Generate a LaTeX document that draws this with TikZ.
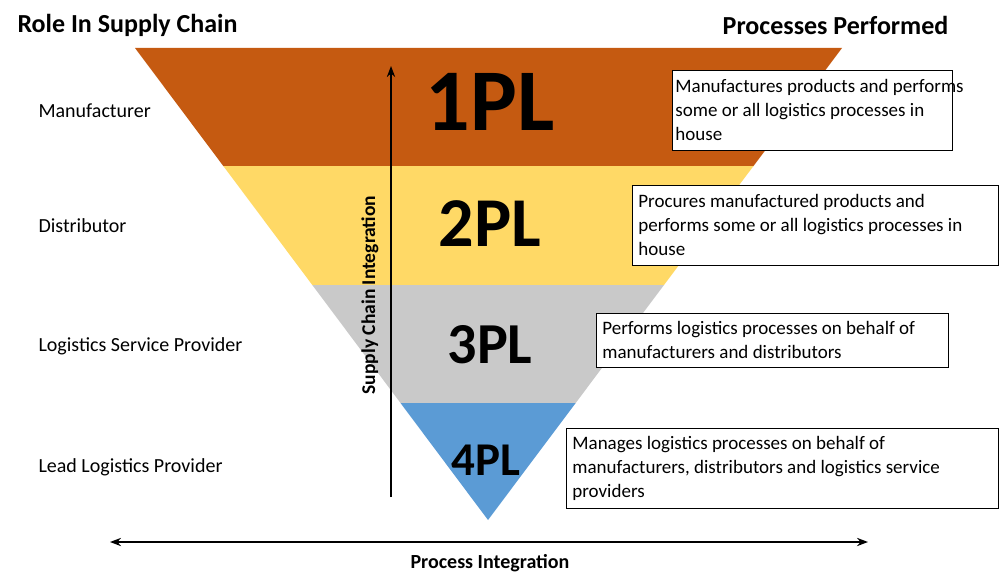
\documentclass[tikz,border=0pt]{standalone}
\usepackage{fontspec}
\setmainfont{Carlito}
\usetikzlibrary{arrows.meta}
\definecolor{c1}{HTML}{C55A11}
\definecolor{c2}{HTML}{FFD966}
\definecolor{c3}{HTML}{C9C9C9}
\definecolor{c4}{HTML}{5B9BD5}
\begin{document}
\begin{tikzpicture}[x=1pt,y=-1pt,
  lbl/.style={anchor=west,font=\fontsize{20}{22}\selectfont},
  box/.style={draw,thick,fill=white,anchor=north west,align=flush left,inner xsep=6pt,font=\fontsize{19}{24}\selectfont},
  head/.style={font=\bfseries\fontsize{26}{28}\selectfont},
  pl/.style={font=\bfseries}]
\useasboundingbox (0,0) rectangle (1000,586);
\fill[c1] (135,48) -- (842,48) -- (753.5,166) -- (223.3,166) -- cycle;
\fill[c2] (223.3,166) -- (753.5,166) -- (664,285) -- (312.3,285) -- cycle;
\fill[c3] (312.3,285) -- (664,285) -- (575.7,403) -- (400.5,403) -- cycle;
\fill[c4] (400.5,403) -- (575.7,403) -- (488,520) -- cycle;
\node[head,anchor=west] (h1) at (14,25) {Role In Supply Chain};
\node[head,anchor=east] (h2) at (952,25) {Processes Performed};
\node[lbl] (l1) at (35,111) {Manufacturer};
\node[lbl] (l2) at (35,226) {Distributor};
\node[lbl] (l3) at (35,346) {Logistics Service Provider};
\node[lbl] (l4) at (35,467) {Lead Logistics Provider};
\node[pl,font=\bfseries\fontsize{88}{88}\selectfont] (p1) at (490,102) {1PL};
\node[pl,font=\bfseries\fontsize{70}{70}\selectfont] (p2) at (490,224) {2PL};
\node[pl,font=\bfseries\fontsize{58}{58}\selectfont] (p3) at (490,345) {3PL};
\node[pl,font=\bfseries\fontsize{47}{47}\selectfont] (p4) at (486,460) {4PL};
\coordinate (vb) at (391,497); \coordinate (vt) at (391,66);
\draw[line width=2.5pt,-{Stealth[length=11pt]}] (vb) -- (vt);
\node[rotate=90,font=\bfseries\fontsize{19.5}{20}\selectfont] (sci) at (370,295) {Supply Chain Integration};
\coordinate (hl) at (110,542); \coordinate (hr) at (868,542);
\draw[line width=2.5pt,{Stealth[length=11pt]}-{Stealth[length=11pt]}] (hl) -- (hr);
\node[font=\bfseries\fontsize{20}{22}\selectfont] (pi) at (490,563) {Process Integration};
\node[box,text width=274pt,inner xsep=3pt,minimum height=80pt] (b1) at (672,70) {\mbox{Manufactures products and performs}\\some or all logistics processes in\\house};
\node[box,text width=354pt,minimum height=80pt] (b2) at (632,185) {Procures manufactured products and\\performs some or all logistics processes in\\house};
\node[box,text width=340pt,minimum height=54pt] (b3) at (596,313) {Performs logistics processes on behalf of\\manufacturers and distributors};
\node[box,text width=420pt,minimum height=80pt] (b4) at (566,428) {Manages logistics processes on behalf of\\manufacturers, distributors and logistics service\\providers};
\end{tikzpicture}
\end{document}
